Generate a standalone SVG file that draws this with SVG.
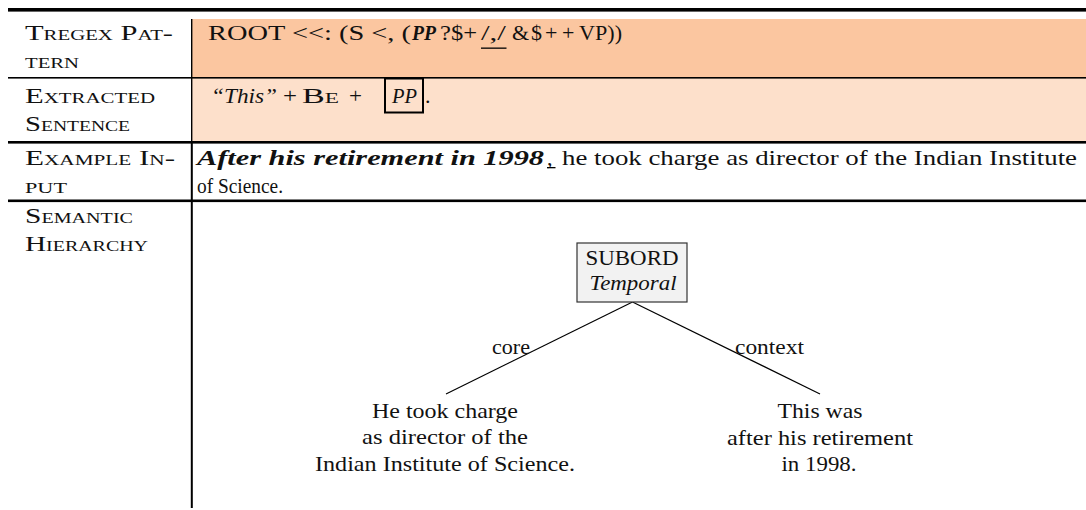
<svg xmlns="http://www.w3.org/2000/svg" width="1086" height="510" viewBox="0 0 1086 510">
<style>
text{font-family:"Liberation Serif","Times New Roman",serif;font-size:22px;fill:#111}
.sc{font-variant:small-caps}
.it{font-style:italic}
.bi{font-style:italic;font-weight:bold}
.mid{text-anchor:middle}
.rule{fill:#000}
.edge{stroke:#000;stroke-width:1.2;fill:none}
</style>
<g id="table">
<rect x="192" y="19" width="894" height="58.5" fill="#FBC6A0"/>
<rect x="192" y="78" width="894" height="63.5" fill="#FDE0CB"/>
<rect class="rule" x="8" y="8" width="1078" height="3.6"/>
<rect class="rule" x="8" y="77" width="1078" height="1.6"/>
<rect class="rule" x="8" y="141" width="1078" height="2.6"/>
<rect class="rule" x="8" y="199.5" width="1078" height="2.6"/>
<rect class="rule" x="191" y="19" width="1.4" height="123"/>
<rect class="rule" x="190.8" y="142" width="2" height="366"/>
</g>
<g id="labels">
<text class="sc" x="25" y="40" textLength="148" lengthAdjust="spacingAndGlyphs">Tregex Pat-</text>
<text class="sc" x="25" y="68" textLength="54" lengthAdjust="spacingAndGlyphs">tern</text>
<text class="sc" x="25" y="103" textLength="130" lengthAdjust="spacingAndGlyphs">Extracted</text>
<text class="sc" x="25" y="131" textLength="105" lengthAdjust="spacingAndGlyphs">Sentence</text>
<text class="sc" x="25" y="164.5" textLength="150" lengthAdjust="spacingAndGlyphs">Example In-</text>
<text class="sc" x="25" y="192.5" textLength="42" lengthAdjust="spacingAndGlyphs">put</text>
<text class="sc" x="25" y="223" textLength="108" lengthAdjust="spacingAndGlyphs">Semantic</text>
<text class="sc" x="25" y="251" textLength="123" lengthAdjust="spacingAndGlyphs">Hierarchy</text>
</g>
<g id="pattern">
<text x="208" y="40" textLength="203" lengthAdjust="spacingAndGlyphs">ROOT &lt;&lt;: (S &lt;, (</text>
<text class="bi" x="412" y="40" textLength="24" lengthAdjust="spacingAndGlyphs">PP</text>
<text x="440" y="40" textLength="37" lengthAdjust="spacingAndGlyphs">?$+</text>
<text x="481" y="40" textLength="25" lengthAdjust="spacingAndGlyphs">/,/</text>
<rect class="rule" x="481" y="47.5" width="25.5" height="1.3"/>
<text x="512" y="40">&amp;</text>
<text x="531" y="40">$</text>
<text x="545" y="40">+</text>
<text x="562" y="40">+</text>
<text x="579" y="40" textLength="43" lengthAdjust="spacingAndGlyphs">VP))</text>
</g>
<g id="extracted">
<text class="it" x="211" y="103" textLength="66" lengthAdjust="spacingAndGlyphs">“This”</text>
<text x="283" y="103" textLength="14" lengthAdjust="spacingAndGlyphs">+</text>
<text class="sc" x="302" y="103" textLength="37" lengthAdjust="spacingAndGlyphs">Be</text>
<text x="349" y="103" textLength="13" lengthAdjust="spacingAndGlyphs">+</text>
<rect x="385" y="78.5" width="38" height="34" fill="none" stroke="#000" stroke-width="2"/>
<text class="it" x="392" y="103" textLength="25" lengthAdjust="spacingAndGlyphs">PP</text>
<text x="425" y="103">.</text>
</g>
<g id="input">
<text class="bi" x="197" y="164.5" textLength="347" lengthAdjust="spacingAndGlyphs">After his retirement in 1998</text>
<text x="547" y="164.5">,</text>
<rect class="rule" x="547" y="167" width="8.5" height="1.3"/>
<text x="562" y="164.5" textLength="515" lengthAdjust="spacingAndGlyphs">he took charge as director of the Indian Institute</text>
<text x="197" y="192.5" textLength="86" lengthAdjust="spacingAndGlyphs">of Science.</text>
</g>
<g id="connectors">
<line class="edge" x1="632.5" y1="302" x2="446" y2="394"/>
<line class="edge" x1="632.5" y1="302" x2="820" y2="394"/>
<text x="530" y="354" text-anchor="end" textLength="38" lengthAdjust="spacingAndGlyphs">core</text>
<text x="735" y="354" textLength="69" lengthAdjust="spacingAndGlyphs">context</text>
</g>
<g id="node-subord">
<rect x="577" y="243" width="110" height="59" fill="#F2F2F2" stroke="#333" stroke-width="1.2"/>
<text class="mid" x="632" y="265" textLength="93" lengthAdjust="spacingAndGlyphs">SUBORD</text>
<text class="mid it" x="633" y="290" textLength="87" lengthAdjust="spacingAndGlyphs">Temporal</text>
</g>
<g id="node-core">
<text class="mid" x="445" y="418" textLength="146" lengthAdjust="spacingAndGlyphs">He took charge</text>
<text class="mid" x="445" y="444" textLength="166" lengthAdjust="spacingAndGlyphs">as director of the</text>
<text class="mid" x="445" y="471" textLength="260" lengthAdjust="spacingAndGlyphs">Indian Institute of Science.</text>
</g>
<g id="node-context">
<text class="mid" x="820" y="418" textLength="85" lengthAdjust="spacingAndGlyphs">This was</text>
<text class="mid" x="820" y="444.5" textLength="186" lengthAdjust="spacingAndGlyphs">after his retirement</text>
<text class="mid" x="819" y="470.5" textLength="75" lengthAdjust="spacingAndGlyphs">in 1998.</text>
</g>
</svg>
